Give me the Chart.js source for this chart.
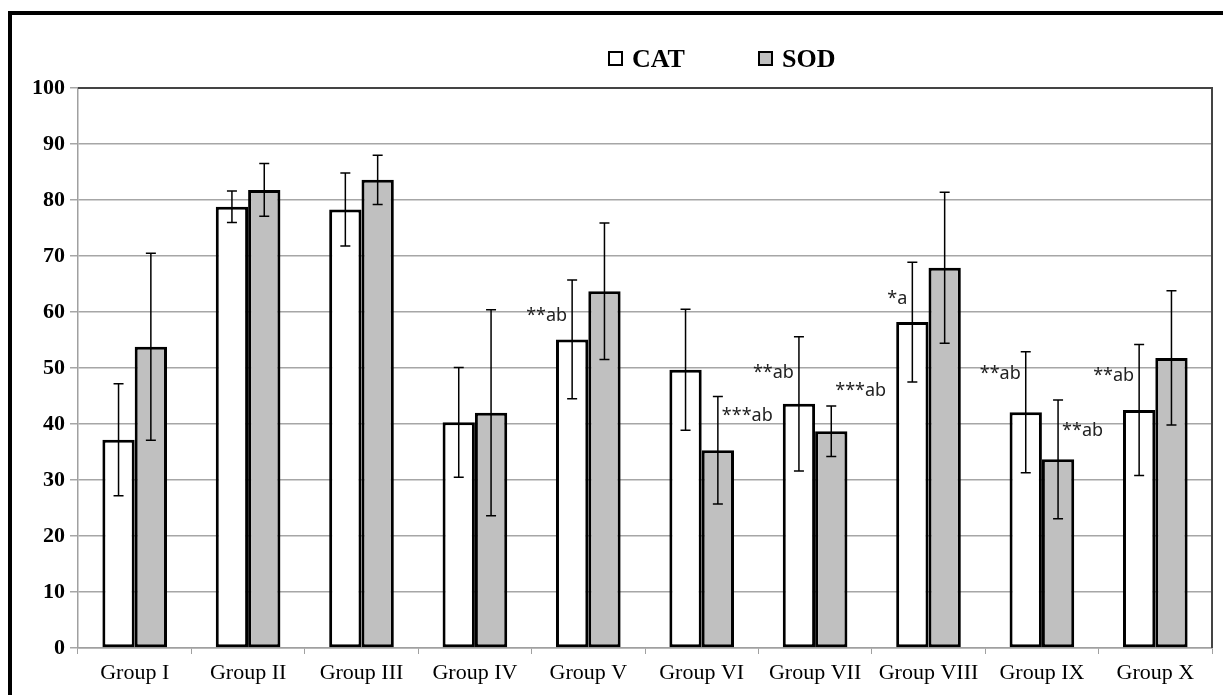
<!DOCTYPE html>
<html>
<head>
<meta charset="utf-8">
<script src="https://cdn.jsdelivr.net/npm/chart.js@4/dist/chart.umd.min.js"></script>
<style>
  html, body { margin: 0; padding: 0; background: #fff; }
  #wrap { width: 1223px; height: 695px; position: relative; }
</style>
</head>
<body>
<div id="wrap"><canvas id="chart"></canvas></div>
<script>
const groups = ['Group I', 'Group II', 'Group III', 'Group IV', 'Group V',
                'Group VI', 'Group VII', 'Group VIII', 'Group IX', 'Group X'];
const seriesNames = ['CAT', 'SOD'];
const catValues = [37.2, 78.8, 78.3, 40.3, 55.1, 49.7, 43.6, 58.2, 42.1, 42.5];
const catErrors = [10.0, 2.8, 6.5, 9.8, 10.6, 10.8, 12.0, 10.7, 10.8, 11.7];
const sodValues = [53.8, 81.8, 83.6, 42.0, 63.7, 35.3, 38.7, 67.9, 33.7, 51.8];
const sodErrors = [16.7, 4.7, 4.4, 18.4, 12.2, 9.6, 4.5, 13.5, 10.6, 12.0];
const yTicks = [0, 10, 20, 30, 40, 50, 60, 70, 80, 90, 100];

// significance marks: group index, series index (0 CAT, 1 SOD), text, value level
const markGroup = [4, 5, 6, 6, 7, 8, 8, 9];
const markSeries = [0, 1, 0, 1, 0, 0, 1, 0];
const markText = ['**ab', '***ab', '**ab', '***ab', '*a', '**ab', '**ab', '**ab'];
const markLevel = [59.3, 41.4, 49.1, 46.0, 62.3, 48.9, 38.7, 48.6];

const barColors = ['#ffffff', '#c0c0c0'];

const errorBars = {
  id: 'errorBars',
  afterDatasetsDraw(chart) {
    const ctx = chart.ctx;
    const y = chart.scales.y;
    const errs = [catErrors, sodErrors];
    ctx.save();
    ctx.strokeStyle = '#000';
    ctx.lineWidth = 1.5;
    chart.data.datasets.forEach((ds, di) => {
      const meta = chart.getDatasetMeta(di);
      meta.data.forEach((bar, i) => {
        const v = ds.data[i], e = errs[di][i];
        const top = y.getPixelForValue(v + e);
        const bot = y.getPixelForValue(v - e);
        const x = bar.x;
        ctx.beginPath();
        ctx.moveTo(x, top); ctx.lineTo(x, bot);
        ctx.moveTo(x - 5, top); ctx.lineTo(x + 5, top);
        ctx.moveTo(x - 5, bot); ctx.lineTo(x + 5, bot);
        ctx.stroke();
      });
    });
    // significance marks
    ctx.fillStyle = '#222';
    ctx.font = '18px "Noto Sans"';
    ctx.textBaseline = 'middle';
    markText.forEach((t, k) => {
      const bar = chart.getDatasetMeta(markSeries[k]).data[markGroup[k]];
      const yy = y.getPixelForValue(markLevel[k]);
      if (markSeries[k] === 0) {
        ctx.textAlign = 'right';
        ctx.fillText(t, bar.x - 5, yy);
      } else {
        ctx.textAlign = 'left';
        ctx.fillText(t, bar.x + 4, yy);
      }
    });
    ctx.restore();
  }
};

const frame = {
  id: 'frame',
  afterDraw(chart) {
    const ctx = chart.ctx;
    const a = chart.chartArea;
    ctx.save();
    // plot top and right border
    ctx.strokeStyle = '#444';
    ctx.lineWidth = 2;
    ctx.beginPath();
    ctx.moveTo(a.left, a.top); ctx.lineTo(a.right, a.top);
    ctx.lineTo(a.right, a.bottom);
    ctx.stroke();
    // outer black frame
    ctx.fillStyle = '#000';
    ctx.fillRect(8, 11, 4, 684);
    ctx.fillRect(8, 11, 1215, 4);
    // legend
    const items = [[609, 632], [759, 782]];
    ctx.font = 'bold 26px "Liberation Serif"';
    ctx.textBaseline = 'middle';
    ctx.textAlign = 'left';
    seriesNames.forEach((name, i) => {
      const [bx, tx] = items[i];
      ctx.fillStyle = barColors[i];
      ctx.fillRect(bx, 52, 13, 13);
      ctx.strokeStyle = '#000';
      ctx.lineWidth = 2;
      ctx.strokeRect(bx, 52, 13, 13);
      ctx.fillStyle = '#000';
      ctx.fillText(name, tx, 60);
    });
    ctx.restore();
  }
};

new Chart(document.getElementById('chart'), {
  type: 'bar',
  data: {
    labels: groups,
    datasets: [
      { label: seriesNames[0], data: catValues, backgroundColor: barColors[0],
        borderColor: '#000', borderWidth: 3, borderSkipped: false },
      { label: seriesNames[1], data: sodValues, backgroundColor: barColors[1],
        borderColor: '#000', borderWidth: 3, borderSkipped: false }
    ]
  },
  options: {
    responsive: true,
    maintainAspectRatio: false,
    animation: false,
    devicePixelRatio: 1,
    layout: { padding: { left: 0, top: 88, right: 11, bottom: 0 } },
    datasets: { bar: { categoryPercentage: 0.57, barPercentage: 1 } },
    plugins: { legend: { display: false }, tooltip: { enabled: false } },
    scales: {
      x: {
        afterFit: s => { s.height = 47; },
        grid: { drawOnChartArea: false, drawTicks: true, tickLength: 6, color: '#a0a0a0', offset: true },
        border: { color: '#a0a0a0', width: 1.5 },
        ticks: { color: '#000', padding: 6, maxRotation: 0, autoSkip: false,
                 font: { family: '"Liberation Serif"', size: 22 } }
      },
      y: {
        min: 0, max: 100,
        afterFit: s => { s.width = 78; },
        afterBuildTicks: s => { s.ticks = yTicks.map(v => ({ value: v })); },
        grid: { color: '#a6a6a6', lineWidth: 1.5, tickLength: 8 },
        border: { color: '#a0a0a0', width: 1.5 },
        ticks: { color: '#000', padding: 5,
                 font: { family: '"Liberation Serif"', size: 22, weight: 'bold' } }
      }
    }
  },
  plugins: [errorBars, frame]
});
</script>
</body>
</html>
